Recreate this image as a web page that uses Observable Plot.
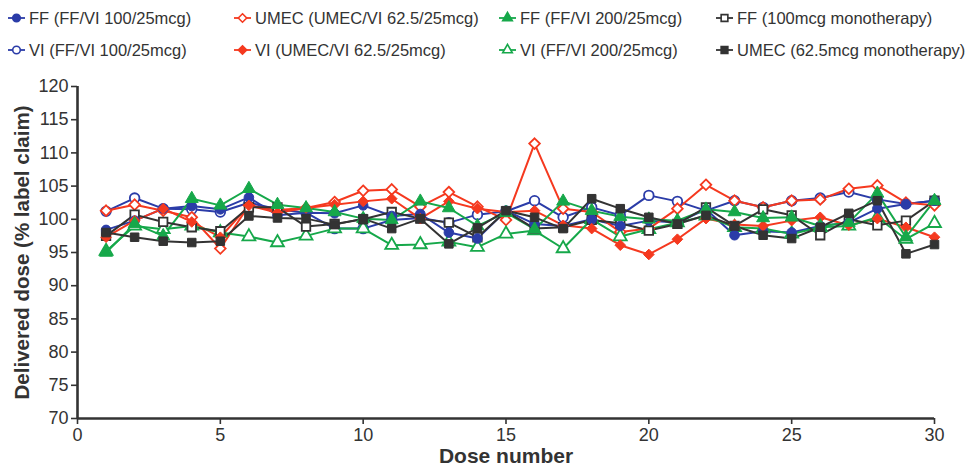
<!DOCTYPE html>
<html>
<head>
<meta charset="utf-8">
<script src="https://cdn.jsdelivr.net/npm/d3@7"></script>
<script src="https://cdn.jsdelivr.net/npm/@observablehq/plot@0.6"></script>
<style>
  html, body { margin: 0; padding: 0; background: #fff; }
  #wrap { position: relative; width: 972px; height: 472px; font-family: "Liberation Sans", Arial, sans-serif; }
  #legend { position: absolute; left: 0; top: 0; width: 972px; height: 70px; }
  .item { position: absolute; display: flex; align-items: center; font-size: 16.5px; line-height: 20px; color: #333; white-space: nowrap; }
  .item svg { margin-right: 4px; }
</style>
</head>
<body>
<div id="wrap"><div id="chart"></div><div id="legend"></div></div>
<script>
const doses = [1,2,3,4,5,6,7,8,9,10,11,12,13,14,15,16,17,18,19,20,21,22,23,24,25,26,27,28,29,30];

const seriesNames = [
  "FF (FF/VI 100/25mcg)",
  "VI (FF/VI 100/25mcg)",
  "UMEC (UMEC/VI 62.5/25mcg)",
  "VI (UMEC/VI 62.5/25mcg)",
  "FF (FF/VI 200/25mcg)",
  "VI (FF/VI 200/25mcg)",
  "FF (100mcg monotherapy)",
  "UMEC (62.5mcg monotherapy)"
];
const seriesColors = ["#2b3ca8", "#2b3ca8", "#f5391f", "#f5391f", "#16a84a", "#16a84a", "#333333", "#333333"];
const seriesSymbols = ["circle", "circle", "diamond2", "diamond2", "triangle", "triangle", "square", "square"];
const seriesFilled = [true, false, false, true, true, false, false, true];

const ffFfvi100 = [98.4, 99.8, 101.6, 102.0, 101.5, 103.3, 100.6, 101.0, 100.9, 102.1, 100.5, 100.8, 98.0, 97.1, 101.3, 99.3, 99.0, 100.0, 99.0, 99.8, 99.5, 101.5, 97.6, 98.2, 98.0, 99.0, 99.5, 101.6, 102.3, 102.8];
const viFfvi100 = [101.2, 103.2, 101.6, 101.5, 101.1, 102.5, 101.5, 101.0, 98.6, 98.6, 99.9, 100.2, 99.5, 100.7, 101.2, 102.8, 100.3, 101.8, 100.6, 103.6, 102.7, 101.3, 102.8, 101.8, 102.8, 103.2, 104.1, 103.0, 102.3, 102.8];
const umecUmecvi = [101.3, 102.2, 101.3, 100.3, 95.6, 102.1, 101.4, 101.7, 102.6, 104.3, 104.5, 101.9, 104.1, 101.9, 99.9, 111.4, 101.6, 101.1, 98.1, 98.6, 101.6, 105.2, 102.8, 101.8, 102.8, 103.0, 104.6, 105.1, 102.5, 102.1];
const viUmecvi = [97.3, 99.8, 101.6, 99.6, 97.3, 102.1, 101.0, 101.7, 102.2, 102.7, 103.1, 100.1, 102.7, 101.6, 101.1, 101.3, 99.1, 98.6, 96.1, 94.7, 97.0, 100.1, 99.2, 99.0, 99.8, 100.3, 99.1, 100.1, 98.8, 97.3];
const ffFfvi200 = [95.0, 99.3, 97.5, 103.1, 102.1, 104.6, 102.2, 101.7, 101.1, 100.1, 99.9, 102.7, 101.7, 99.0, 101.0, 98.5, 102.7, 101.3, 100.4, 100.0, 99.8, 101.5, 101.1, 100.2, 100.3, 99.0, 99.5, 103.9, 97.3, 102.8];
const viFfvi200 = [95.2, 99.0, 98.5, 99.0, 98.0, 97.4, 96.5, 97.5, 98.6, 98.6, 96.1, 96.2, 96.6, 95.8, 97.8, 98.3, 95.6, 100.0, 97.4, 98.5, 99.5, 100.5, 98.8, 98.6, 97.8, 98.8, 99.0, 100.3, 97.0, 99.4];
const ffMono = [97.5, 100.7, 99.6, 98.8, 98.2, 101.8, 101.8, 98.9, 99.3, 100.0, 101.1, 100.1, 99.5, 97.3, 101.2, 98.6, 98.8, 99.9, 99.4, 98.3, 99.3, 101.8, 99.0, 101.5, 100.6, 97.6, 100.0, 99.1, 99.8, 102.8];
const umecMono = [98.0, 97.3, 96.7, 96.5, 96.7, 100.5, 100.2, 100.1, 99.2, 100.1, 98.6, 100.1, 96.3, 98.7, 101.3, 100.3, 98.6, 103.1, 101.6, 100.3, 99.3, 100.6, 99.0, 97.6, 97.1, 98.8, 100.9, 102.8, 94.8, 96.2];

const xTicks = [0, 5, 10, 15, 20, 25, 30];
const yTicks = [70, 75, 80, 85, 90, 95, 100, 105, 110, 115, 120];
const xTitle = "Dose number";
const yTitle = "Delivered dose (% label claim)";

const seriesValues = [ffFfvi100, viFfvi100, umecUmecvi, viUmecvi, ffFfvi200, viFfvi200, ffMono, umecMono];
const data = [];
seriesNames.forEach((name, i) => {
  seriesValues[i].forEach((v, j) => data.push({series: name, dose: doses[j], value: v, filled: seriesFilled[i]}));
});
const filledData = data.filter(d => d.filled);
const openData = data.filter(d => !d.filled);

const chart = Plot.plot({
  width: 972,
  height: 472,
  marginLeft: 77,
  marginRight: 38,
  marginTop: 86,
  marginBottom: 54,
  style: {fontFamily: "'Liberation Sans', Arial, sans-serif", color: "#333", background: "white", overflow: "visible"},
  x: {domain: [0, 30]},
  y: {domain: [70, 120]},
  color: {domain: seriesNames, range: seriesColors},
  symbol: {domain: seriesNames, range: seriesSymbols},
  marks: [
    Plot.axisX({ticks: xTicks, tickSize: 6, tickPadding: 4, fontSize: 18, stroke: "#333", strokeWidth: 1.6, label: null, tickFormat: d => d}),
    Plot.axisY({ticks: yTicks, tickSize: 6, tickPadding: 3, fontSize: 18, stroke: "#333", strokeWidth: 1.6, label: null, tickFormat: d => d}),
    Plot.text([xTitle], {frameAnchor: "bottom", textAnchor: "middle", dy: 44, fontSize: 21, fontWeight: "bold", fill: "#333"}),
    Plot.text([yTitle], {frameAnchor: "left", textAnchor: "middle", dx: -55, rotate: -90, fontSize: 20.5, fontWeight: "bold", fill: "#333"}),
    Plot.line(data, {x: "dose", y: "value", z: "series", stroke: "series", strokeWidth: 2}),
    Plot.dot(openData, {x: "dose", y: "value", symbol: "series", stroke: "series", fill: "white", r: 4.8, strokeWidth: 1.8}),
    Plot.dot(filledData, {x: "dose", y: "value", symbol: "series", stroke: "series", fill: "series", r: 4.8, strokeWidth: 1}),
    Plot.ruleY([70], {stroke: "#333", strokeWidth: 2.6}),
    Plot.ruleX([0], {stroke: "#333", strokeWidth: 2.6})
  ]
});
document.getElementById("chart").appendChild(chart);

// Legend
const legendOrder = [0, 2, 4, 6, 1, 3, 5, 7];
const colLeft = [8, 234, 499, 716];
const rowTop = [8, 40];
const legend = document.getElementById("legend");
const symPath = {
  circle: d3.symbol(d3.symbolCircle, 45)(),
  diamond2: d3.symbol(d3.symbolDiamond2, 45)(),
  triangle: d3.symbol(d3.symbolTriangle, 40)(),
  square: d3.symbol(d3.symbolSquare, 45)()
};
legendOrder.forEach((si, k) => {
  const col = k % 4, row = Math.floor(k / 4);
  const div = document.createElement("div");
  div.className = "item";
  div.style.left = colLeft[col] + "px";
  div.style.top = rowTop[row] + "px";
  const c = seriesColors[si];
  const fill = seriesFilled[si] ? c : "white";
  div.innerHTML = `<svg width="17" height="20" viewBox="-8.5 -10 17 20"><line x1="-8.5" x2="8.5" y1="0" y2="0" stroke="${c}" stroke-width="1.8"/><path d="${symPath[seriesSymbols[si]]}" fill="${fill}" stroke="${c}" stroke-width="1.6"/></svg><span>${seriesNames[si]}</span>`;
  legend.appendChild(div);
});
</script>
</body>
</html>
